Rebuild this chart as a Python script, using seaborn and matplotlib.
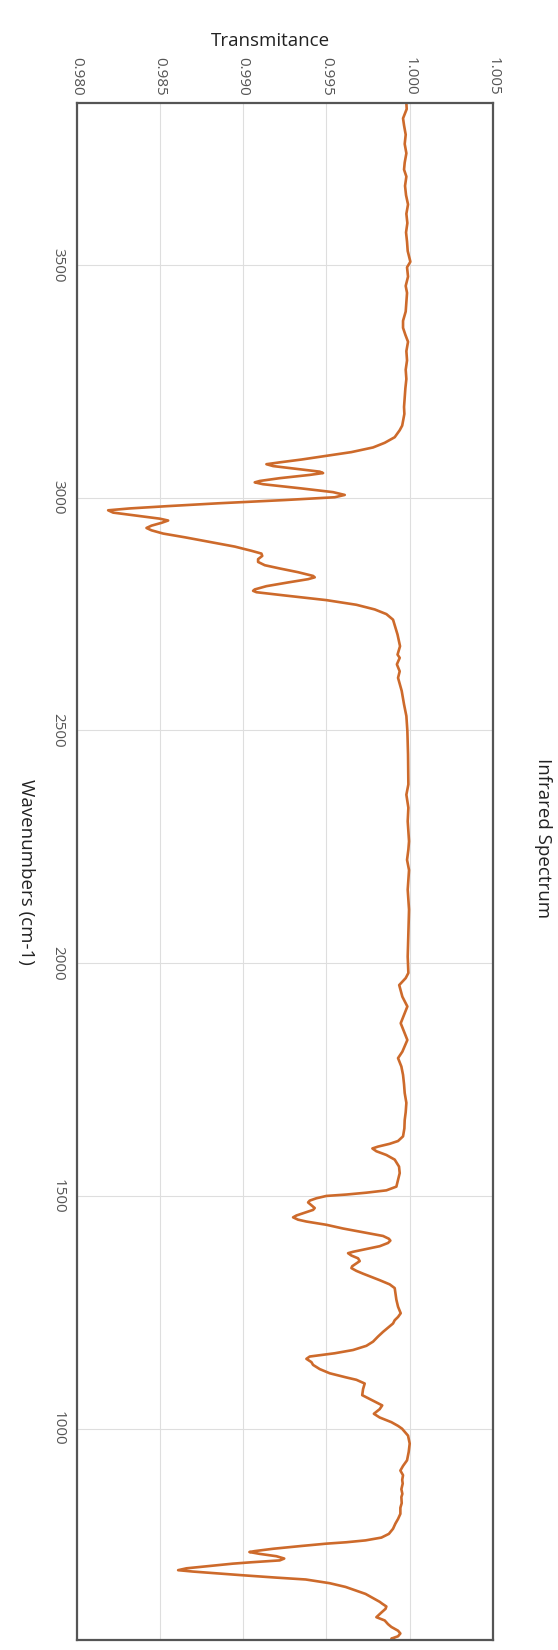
import numpy as np
import matplotlib
matplotlib.use("Agg")
import matplotlib.pyplot as plt
import seaborn as sns

# wavenumbers (cm-1) from top to bottom
wavenumber = [
    3848, 3835, 3815, 3800, 3780, 3760, 3740, 3720, 3705, 3690, 3670, 3650,
    3630, 3610, 3590, 3570, 3550, 3530, 3507, 3495, 3475, 3455, 3440, 3420,
    3400, 3380, 3365, 3350, 3335, 3315, 3295, 3275, 3255, 3235, 3215, 3195,
    3180, 3165, 3155, 3145, 3130, 3118, 3108, 3098, 3090, 3082, 3076, 3072,
    3068, 3062, 3056, 3053, 3049, 3042, 3036, 3033, 3029, 3020, 3012, 3006,
    3001, 2995, 2988, 2982, 2977, 2973, 2968, 2962, 2955, 2951, 2946, 2940,
    2935, 2930, 2923, 2915, 2905, 2895, 2886, 2880, 2875, 2868, 2862, 2855,
    2848, 2840, 2832, 2829, 2825, 2818, 2810, 2803, 2800, 2797, 2790, 2780,
    2770, 2760, 2750, 2738, 2720, 2706, 2681, 2663, 2656, 2642, 2627, 2613,
    2585, 2556, 2531, 2499, 2448, 2384, 2362, 2334, 2305, 2262, 2244, 2222,
    2200, 2158, 2115, 2064, 2014, 1979, 1968, 1953, 1928, 1907, 1871, 1835,
    1810, 1796, 1778, 1760, 1740, 1721, 1700, 1680, 1663, 1645, 1628, 1618,
    1612, 1606, 1602, 1596, 1588, 1578, 1563, 1549, 1534, 1520, 1512, 1507,
    1503, 1500, 1495, 1490, 1486, 1480, 1474, 1470, 1464, 1458, 1454, 1449,
    1445, 1438, 1430, 1422, 1414, 1408, 1404, 1399, 1392, 1386, 1380, 1377,
    1372, 1366, 1360, 1355, 1349, 1345, 1339, 1333, 1326, 1319, 1310, 1302,
    1290, 1277, 1262, 1248, 1240, 1233, 1226, 1217, 1208, 1198, 1187, 1178,
    1169, 1162, 1157, 1155, 1150, 1143, 1137, 1128, 1119, 1110, 1105, 1097,
    1085, 1072, 1060, 1050, 1042, 1032, 1024, 1014, 1006, 1000, 985, 968,
    950, 932, 920, 910, 900, 890, 882, 870, 860, 853, 840, 830,
    817, 806, 796, 785, 774, 766, 760, 756, 753, 748, 742, 737,
    735, 731, 726, 721, 717, 713, 710, 705, 700, 696, 693, 689,
    685, 680, 676, 668, 660, 652, 645, 636, 628, 624, 618, 613,
    605, 595, 588, 580, 574, 566, 560, 554, 549, 546,
]

transmittance = [
    0.99980, 0.99982, 0.99960, 0.99966, 0.99976, 0.99970, 0.99980, 0.99970, 0.99966, 0.99980, 0.99972, 0.99978,
    0.99990, 0.99980, 0.99986, 0.99978, 0.99984, 0.99988, 1.00004, 0.99984, 0.99990, 0.99976, 0.99984, 0.99980,
    0.99976, 0.99960, 0.99960, 0.99974, 0.99990, 0.99980, 0.99984, 0.99976, 0.99980, 0.99974, 0.99970, 0.99966,
    0.99968, 0.99960, 0.99955, 0.99940, 0.99910, 0.99850, 0.99780, 0.99650, 0.99500, 0.99350, 0.99220, 0.99140,
    0.99180, 0.99320, 0.99460, 0.99480, 0.99400, 0.99220, 0.99100, 0.99070, 0.99120, 0.99350, 0.99540, 0.99610,
    0.99550, 0.99250, 0.98850, 0.98550, 0.98320, 0.98190, 0.98220, 0.98350, 0.98500, 0.98550, 0.98510, 0.98450,
    0.98420, 0.98450, 0.98520, 0.98650, 0.98800, 0.98950, 0.99050, 0.99110, 0.99115, 0.99090, 0.99090, 0.99130,
    0.99220, 0.99330, 0.99420, 0.99430, 0.99390, 0.99270, 0.99140, 0.99070, 0.99060, 0.99080, 0.99250, 0.99500,
    0.99680, 0.99790, 0.99860, 0.99900, 0.99915, 0.99927, 0.99942, 0.99927, 0.99940, 0.99923, 0.99940, 0.99930,
    0.99952, 0.99966, 0.99980, 0.99986, 0.99990, 0.99992, 0.99980, 0.99992, 0.99988, 0.99996, 0.99992, 0.99984,
    0.99996, 0.99988, 0.99996, 0.99992, 0.99988, 0.99992, 0.99976, 0.99937, 0.99956, 0.99986, 0.99946, 0.99986,
    0.99956, 0.99930, 0.99950, 0.99960, 0.99966, 0.99970, 0.99980, 0.99976, 0.99970, 0.99968, 0.99960, 0.99930,
    0.99880, 0.99810, 0.99776, 0.99800, 0.99860, 0.99910, 0.99936, 0.99940, 0.99930, 0.99920, 0.99860, 0.99740,
    0.99620, 0.99500, 0.99440, 0.99400, 0.99390, 0.99410, 0.99430, 0.99420, 0.99370, 0.99320, 0.99300, 0.99330,
    0.99380, 0.99500, 0.99600, 0.99720, 0.99840, 0.99875, 0.99884, 0.99870, 0.99820, 0.99740, 0.99660, 0.99630,
    0.99650, 0.99690, 0.99700, 0.99680, 0.99655, 0.99650, 0.99680, 0.99720, 0.99770, 0.99820, 0.99880, 0.99910,
    0.99915, 0.99920, 0.99930, 0.99946, 0.99930, 0.99910, 0.99900, 0.99870, 0.99840, 0.99810, 0.99780, 0.99740,
    0.99660, 0.99550, 0.99440, 0.99400, 0.99380, 0.99410, 0.99420, 0.99460, 0.99520, 0.99620, 0.99680, 0.99730,
    0.99720, 0.99715, 0.99780, 0.99835, 0.99820, 0.99785, 0.99820, 0.99890, 0.99930, 0.99954, 0.99990, 1.00000,
    0.99994, 0.99984, 0.99960, 0.99944, 0.99960, 0.99955, 0.99958, 0.99950, 0.99956, 0.99950, 0.99952, 0.99944,
    0.99944, 0.99930, 0.99914, 0.99900, 0.99875, 0.99830, 0.99735, 0.99620, 0.99500, 0.99350, 0.99180, 0.99070,
    0.99038, 0.99100, 0.99200, 0.99247, 0.99220, 0.99050, 0.98938, 0.98800, 0.98660, 0.98610, 0.98700, 0.98850,
    0.99000, 0.99200, 0.99376, 0.99520, 0.99615, 0.99680, 0.99735, 0.99780, 0.99820, 0.99835, 0.99860, 0.99855,
    0.99830, 0.99800, 0.99850, 0.99870, 0.99890, 0.99930, 0.99944, 0.99930, 0.99890, 0.99910,
]

x_ticks = [0.980, 0.985, 0.990, 0.995, 1.000, 1.005]
y_ticks = [1000, 1500, 2000, 2500, 3000, 3500]

sns.set_theme(style="whitegrid")
plt.rcParams['font.family'] = ['Open Sans', 'DejaVu Sans']

fig = plt.figure(figsize=(5.58, 16.5), dpi=100)
ax = fig.add_axes([76.5 / 558, 10 / 1650, 416.5 / 558, 1537 / 1650])

sns.lineplot(x=transmittance, y=wavenumber, sort=False, estimator=None,
             color="#cd6a2b", linewidth=1.9, ax=ax)

ax.set_xlim(0.980, 1.005)
ax.set_ylim(min(wavenumber), max(wavenumber))
ax.xaxis.tick_top()
ax.set_xticks(x_ticks)
ax.set_xticklabels(["%.3f" % v for v in x_ticks], rotation=-90)
ax.set_yticks(y_ticks)
ax.set_yticklabels([str(v) for v in y_ticks], rotation=-90, va="center")
ax.tick_params(axis="x", length=0, pad=5, labelsize=11, labelcolor="#555555")
ax.tick_params(axis="y", length=0, pad=8, labelsize=11, labelcolor="#555555")

ax.grid(True, color="#dedede", linewidth=0.8)
for s in ax.spines.values():
    s.set_color("#555555")
    s.set_linewidth(1.6)
ax.set_xlabel("")
ax.set_ylabel("")

fig.text(270 / 558, 1 - 41 / 1650, "Transmitance", ha="center", va="center",
         fontsize=13.5, color="#222222")
fig.text(26 / 558, 1 - 872 / 1650, "Wavenumbers (cm-1)", ha="center", va="center",
         rotation=-90, fontsize=13.5, color="#222222")
fig.text(543 / 558, 1 - 838 / 1650, "Infrared Spectrum", ha="center", va="center",
         rotation=-90, fontsize=13.5, color="#222222")

fig.savefig("out.png", dpi=100)
